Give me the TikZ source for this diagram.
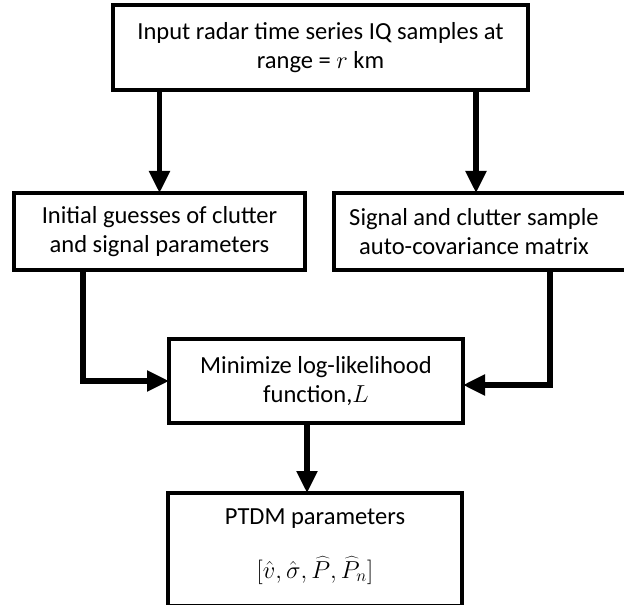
\RequirePackage{fix-cm}
\documentclass[tikz,border=0pt]{standalone}
\usepackage{fontspec}
\setmainfont{Carlito}
\usetikzlibrary{arrows.meta}
\begin{document}
\begin{tikzpicture}[x=0.75pt,y=-0.75pt,
  box/.style={draw, line width=3.6pt, inner sep=0pt, outer sep=0pt, align=center,
    font=\fontsize{18.4}{22.3}\selectfont},
  txt/.style={inner sep=0pt, align=center, font=\fontsize{18.4}{22.3}\selectfont},
  arr/.style={line width=4pt, -{Triangle[length=16.5pt,width=15pt]}}]
\useasboundingbox (0,0) rectangle (624,605);
\node[box, minimum width=311.25pt, minimum height=63.75pt] (top) at (320.5,47.5)
  {Input radar time series IQ samples at\\range = $r$ km};
\node[box, minimum width=218.25pt, minimum height=57.75pt] (left) at (159.5,231.5)
  {Initial guesses of clutter\\and signal parameters};
\node[box, minimum width=223.5pt, minimum height=57.75pt] (right) at (483,231.5) {};
\node[txt] (rtext) at (474,231.5) {Signal and clutter sample\\auto-covariance matrix};
\node[box, minimum width=220.5pt, minimum height=63pt] (min) at (316,381)
  {Minimize log-likelihood\\function,$L$};
\node[box, minimum width=220.5pt, minimum height=84.75pt] (ptdm) at (315,549.5) {};
\node[txt, anchor=base] (p1) at (315,524) {PTDM parameters};
\node[txt, anchor=base] (p2) at (315,578) {$[\hat{v},\hat{\sigma},\widehat{P},\widehat{P}_n]$};
\coordinate (rx) at (476,0);
\coordinate (lx) at (83,0);
\coordinate (rx2) at (550,385);
\coordinate (bx) at (307,0);
\draw[arr] (top.south -| left.north) -- (left.north);
\draw[arr] (top.south -| rx) -- (right.north -| rx);
\draw[arr] (left.south -| lx) |- (min.west);
\draw[arr] (right.south -| rx2) |- (min.east |- rx2);
\draw[arr] (min.south -| bx) -- (ptdm.north -| bx);
\end{tikzpicture}
\end{document}
